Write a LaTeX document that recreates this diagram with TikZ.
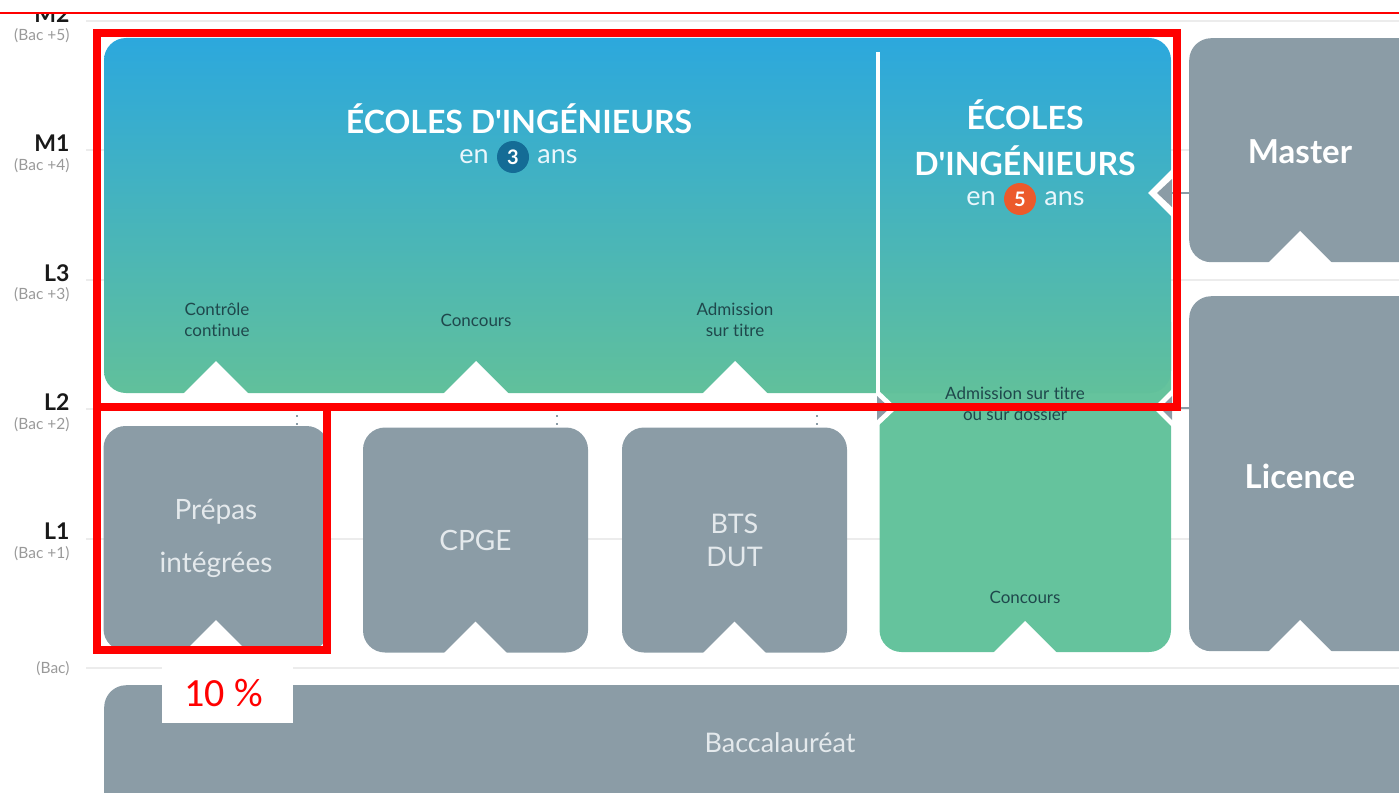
\documentclass[tikz,border=0pt]{standalone}
\usepackage{fontspec}
\setmainfont{Lato}[Ligatures=NoCommon]
\newfontfamily\latodroit{Lato}[Ligatures=NoCommon]
\newfontfamily\calfont{Carlito}
\usetikzlibrary{positioning}

\definecolor{ciel}{RGB}{44,168,221}
\definecolor{menthe}{RGB}{97,192,155}
\definecolor{menthebas}{RGB}{101,195,157}
\definecolor{ardoise}{RGB}{139,156,166}
\definecolor{pastilletrois}{RGB}{20,108,150}
\definecolor{pastillecinq}{RGB}{236,90,43}
\definecolor{encre}{RGB}{31,72,76}
\definecolor{craie}{RGB}{228,233,236}
\definecolor{grille}{RGB}{236,236,236}

% triangular cut at the bottom of a box
\newcommand{\encoche}[1]{\fill[white] ([xshift=-33pt,yshift=-2pt]#1) -- ([yshift=31pt]#1) -- ([xshift=33pt,yshift=-2pt]#1) -- cycle;}

\begin{document}
\begin{tikzpicture}[x=1pt,y=-1pt,
  box/.style={fill=ardoise,rounded corners=22pt,inner sep=0pt,minimum width=225pt,minimum height=225pt},
  boxtext/.style={text=craie,align=center},
  bigname/.style={text=white,font=\fontsize{33}{36}\selectfont\bfseries},
  ecole/.style={text=white,font=\latodroit\fontsize{32}{46}\selectfont\bfseries,align=center},
  duree/.style={text=white!90!ciel,inner sep=0pt,font=\fontsize{27}{27}\selectfont},
  pastille/.style={circle,inner sep=0pt,minimum size=32pt,text=white,font=\fontsize{20}{20}\selectfont\bfseries},
  voie/.style={text=encre,align=center,font=\fontsize{17}{21}\selectfont},
  lvl/.style={anchor=east,text=black!90,font=\fontsize{23}{23}\selectfont\bfseries},
  baclabel/.style={anchor=east,text=black!40,font=\fontsize{15.5}{16}\selectfont}]
  \useasboundingbox (0,0) rectangle (1399,792);
  \clip (0,0) rectangle (1399,792);

  % grid of the years
  \foreach \i in {0,...,5}
    \draw[grille,line width=2pt] (86,{21+129.4*\i}) -- (1399,{21+129.4*\i});
  \foreach \lvl/\bacp [count=\i from 0] in {M2/+5,M1/+4,L3/+3,L2/+2,L1/+1} {
    \node[lvl] (lvl\i) at (73,{14+129.4*\i}) {\lvl};
    \node[baclabel] (bac\i) at (73,{36+129.4*\i}) {(Bac \bacp)};
  }
  \node[baclabel] (bac5) at (73,669) {(Bac)};

  % ecoles d'ingenieurs
  \fill[menthebas,rounded corners=22pt] (879.5,300) rectangle (1171,652);
  \shade[top color=ciel,bottom color=menthe,rounded corners=22pt] (104,38) rectangle (1171,393);
  \draw[white,line width=4pt] (877.5,52) -- (877.5,395);
  \foreach \x in {216,476,735}
    \encoche{\x,392};
  \encoche{1025,652};
  \fill[white] (1172,169) -- (1148,193) -- (1172,217) -- cycle;
  \fill[ardoise] (1172,179) -- (1157,193) -- (1172,207) -- cycle;
  \fill[white] (877,389) -- (897,408) -- (877,427) -- cycle;
  \fill[ardoise] (877,396) -- (890,408) -- (877,420) -- cycle;
  \fill[white] (1172,389) -- (1153,408) -- (1172,427) -- cycle;
  \fill[ardoise] (1172,396) -- (1160,408) -- (1172,420) -- cycle;

  \node[ecole] (titre3) at (519,119) {ÉCOLES D'INGÉNIEURS};
  \node[pastille,fill=pastilletrois] (p3) at (513,157) {3};
  \node[duree,left=8pt of p3] (en3) {en};
  \node[duree,right=8pt of p3] (ans3) {ans};
  \node[ecole] (titre5) at (1025,138) {ÉCOLES\\D'INGÉNIEURS};
  \node[pastille,fill=pastillecinq] (p5) at (1020,199) {5};
  \node[duree,left=8pt of p5] (en5) {en};
  \node[duree,right=8pt of p5] (ans5) {ans};
  \node[voie] (controle) at (217,320) {Contrôle\\continue};
  \node[voie] (concours3) at (476,320) {Concours};
  \node[voie] (surtitre) at (735,320) {Admission\\sur titre};
  \node[voie] (dossier) at (1015,404) {Admission sur titre\\ou sur dossier};
  \node[voie] (concours5) at (1025,597) {Concours};

  % filieres apres le bac
  \node[box,boxtext,font=\fontsize{28}{53}\selectfont] (prepas) at (216,538.5) {Prépas\\intégrées};
  \node[box,boxtext,font=\fontsize{28}{33}\selectfont] (cpge) at (475.5,540) {CPGE};
  \node[box,boxtext,font=\fontsize{27}{33}\selectfont] (bts) at (734.5,540) {BTS\\DUT};
  \foreach \n in {prepas,cpge,bts}
    \encoche{\n.south};

  \node[box,anchor=north west,minimum width=260pt,minimum height=224pt] (master) at (1189,38) {};
  \node[box,anchor=north west,minimum width=260pt,minimum height=355pt] (licence) at (1189,296) {};
  \node[bigname] (tmaster) at (1300,152) {Master};
  \node[bigname] (tlicence) at (1300,476) {Licence};
  \encoche{1300,262};
  \encoche{1300,651};
  \node[box,anchor=north west,minimum width=1346pt,minimum height=160pt] (baccalaureat) at (104,685) {};
  \node[boxtext,font=\fontsize{27}{30}\selectfont] (tbac) at (780,743) {Baccalauréat};

  \coordinate (versM) at (1172,193);
  \coordinate (versL) at (1172,408);
  \draw[ardoise,line width=1.5pt] (versM) -- (versM -| master.west);
  \draw[ardoise,line width=1.5pt] (versL) -- (versL -| licence.west);
  \foreach \x in {297,557,817}
    \draw[ardoise,line width=1.5pt,dash pattern=on 1.5pt off 6.5pt] (\x,415) -- (\x,426);

  % highlighted part
  \draw[red,line width=8pt] (97,33) rectangle (1177,407);
  \draw[red,line width=8pt] (97,407) rectangle (327,650);
  \node[fill=white,minimum width=131pt,minimum height=60pt,text=red,font=\calfont\fontsize{40}{40}\selectfont] (taux) at (227.5,693) {\hspace*{-8pt}10 \%};
  \fill[white] (0,0) rectangle (1399,12.5);
  \draw[red,line width=2pt] (0,13) -- (1399,13);
\end{tikzpicture}
\end{document}
